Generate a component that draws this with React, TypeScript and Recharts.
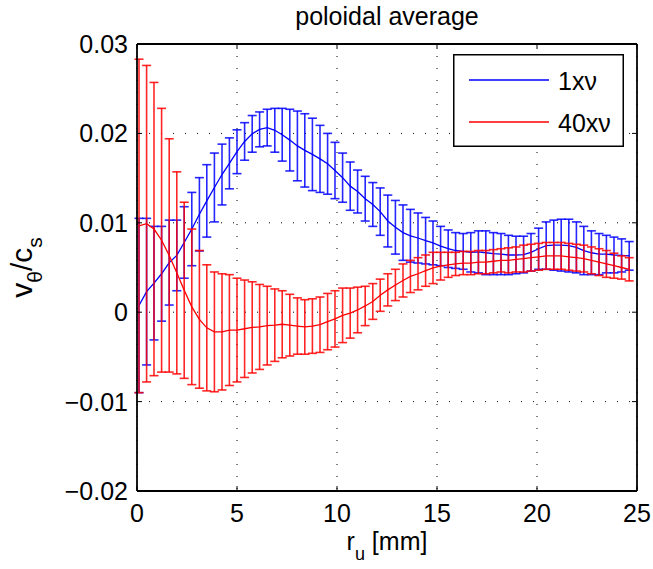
import React from 'react';
import { ComposedChart, Line, ErrorBar, XAxis, YAxis, CartesianGrid, Legend, Label } from 'recharts';

const FONT = '"Liberation Sans", Arial, Helvetica, sans-serif';

const title = 'poloidal average';
const seriesNames = ['1x\u03bd', '40x\u03bd'];
const xTicks = [0, 5, 10, 15, 20, 25];
const yTicks = [-0.02, -0.01, 0, 0.01, 0.02, 0.03];

const rValues = [
  0.10, 0.48, 0.85, 1.23, 1.61, 1.99, 2.36, 2.74, 3.12, 3.49,
  3.87, 4.25, 4.62, 5.00, 5.38, 5.76, 6.13, 6.51, 6.89, 7.26,
  7.64, 8.02, 8.39, 8.77, 9.15, 9.53, 9.90, 10.28, 10.66, 11.03,
  11.41, 11.79, 12.16, 12.54, 12.92, 13.30, 13.67, 14.05, 14.43, 14.80,
  15.18, 15.56, 15.93, 16.31, 16.69, 17.07, 17.44, 17.82, 18.20, 18.57,
  18.95, 19.33, 19.70, 20.08, 20.46, 20.84, 21.21, 21.59, 21.97, 22.34,
  22.72, 23.10, 23.47, 23.85, 24.23, 24.61,
];

const blueMean = [
  0.00075, 0.0023, 0.00325, 0.0043, 0.00555, 0.00635, 0.0078, 0.0093, 0.01095, 0.01245,
  0.01395, 0.0154, 0.01665, 0.01795, 0.0191, 0.01995, 0.02045, 0.02065, 0.02035, 0.01985,
  0.01925, 0.0186, 0.0181, 0.01765, 0.01715, 0.0166, 0.01585, 0.01505, 0.0141, 0.0135,
  0.0127, 0.01205, 0.01125, 0.0102, 0.0095, 0.0089, 0.00855, 0.0083, 0.008, 0.00775,
  0.0074, 0.0071, 0.0069, 0.0068, 0.0067, 0.00675, 0.00665, 0.00655, 0.0065, 0.0064,
  0.0064, 0.00645, 0.0067, 0.0071, 0.00745, 0.0075, 0.0075, 0.00745, 0.00725, 0.0069,
  0.00665, 0.0065, 0.0065, 0.0064, 0.00635, 0.0063,
];
const blueErr = [
  0.00975, 0.0082, 0.00635, 0.0053, 0.00475, 0.00395, 0.004, 0.0041, 0.0041, 0.00405,
  0.00385, 0.0034, 0.00285, 0.00245, 0.0021, 0.00205, 0.00195, 0.00205, 0.00245, 0.00295,
  0.00345, 0.0039, 0.0041, 0.00405, 0.00375, 0.0034, 0.00315, 0.00275, 0.0027, 0.0024,
  0.0025, 0.00245, 0.00265, 0.0029, 0.003, 0.0031, 0.00295, 0.0028, 0.0026, 0.00245,
  0.0022, 0.0021, 0.002, 0.002, 0.0022, 0.00235, 0.00245, 0.00235, 0.0023, 0.0022,
  0.0021, 0.00205, 0.0021, 0.0023, 0.00265, 0.0028, 0.0029, 0.00295, 0.00285, 0.0027,
  0.00245, 0.0023, 0.0021, 0.002, 0.00185, 0.0016,
];

const redMean = [
  0.00965, 0.0099, 0.0093, 0.00805, 0.00635, 0.0044, 0.00245, 0.0006, -0.0008, -0.00175,
  -0.0022, -0.0022, -0.002, -0.002, -0.00185, -0.0017, -0.00165, -0.0015, -0.00145, -0.00135,
  -0.00145, -0.00155, -0.00165, -0.00155, -0.0014, -0.00105, -0.00075, -0.00035, -0.0001, 0.00025,
  0.0007, 0.0012, 0.0019, 0.0025, 0.00305, 0.00355, 0.004, 0.0043, 0.00465, 0.00495,
  0.00515, 0.0053, 0.0054, 0.0055, 0.0055, 0.0056, 0.0056, 0.0057, 0.0058, 0.0058,
  0.0059, 0.006, 0.0061, 0.0062, 0.0063, 0.0063, 0.0063, 0.0062, 0.0061, 0.006,
  0.0058, 0.0056, 0.0054, 0.0052, 0.005, 0.0048,
];
const redErr = [
  0.01865, 0.0177, 0.0164, 0.01475, 0.01305, 0.0113, 0.00985, 0.0087, 0.0077, 0.00705,
  0.0067, 0.0065, 0.0062, 0.0058, 0.00545, 0.0051, 0.00475, 0.0044, 0.00405, 0.00375,
  0.00345, 0.00315, 0.00305, 0.00305, 0.0031, 0.00315, 0.00315, 0.00305, 0.0028, 0.00255,
  0.0022, 0.002, 0.0018, 0.0018, 0.00175, 0.00185, 0.0018, 0.0018, 0.00175, 0.00175,
  0.00155, 0.0014, 0.0013, 0.0013, 0.0013, 0.0013, 0.0013, 0.0013, 0.0013, 0.0014,
  0.0014, 0.0015, 0.0015, 0.0015, 0.0015, 0.0015, 0.0015, 0.0015, 0.0015, 0.0015,
  0.0015, 0.0015, 0.0015, 0.0014, 0.0013, 0.0013,
];

const BLUE = '#0000ff';
const RED = '#ff0000';

const data = rValues.map((r, i) => ({
  r,
  blue: blueMean[i],
  blueErr: blueErr[i],
  red: redMean[i],
  redErr: redErr[i],
}));

const fmtY = (v: number) => (v === 0 ? '0' : (v < 0 ? '\u2212' : '') + Math.abs(v).toFixed(2));

const TICK_LEN = 5;
const FS = 25;

const BottomTick = (props: any) => {
  const { x, y, payload } = props;
  return (
    <g>
      <line x1={x} y1={y} x2={x} y2={y - TICK_LEN} stroke="#000" strokeWidth={1} />
      <text x={x} y={y + 31} textAnchor="middle" fontSize={FS} fontFamily={FONT} fill="#000">
        {payload.value}
      </text>
    </g>
  );
};
const TopTick = (props: any) => {
  const { x, y } = props;
  return <line x1={x} y1={y} x2={x} y2={y + TICK_LEN} stroke="#000" strokeWidth={1} />;
};
const LeftTick = (props: any) => {
  const { x, y, payload } = props;
  return (
    <g>
      <line x1={x} y1={y} x2={x + TICK_LEN} y2={y} stroke="#000" strokeWidth={1} />
      <text x={x - 9} y={y} dy="0.36em" textAnchor="end" fontSize={FS} fontFamily={FONT} fill="#000">
        {fmtY(payload.value)}
      </text>
    </g>
  );
};
const RightTick = (props: any) => {
  const { x, y } = props;
  return <line x1={x} y1={y} x2={x - TICK_LEN} y2={y} stroke="#000" strokeWidth={1} />;
};

const TitleContent = (props: any) => {
  const vb = props.viewBox || {};
  return (
    <text x={vb.x + vb.width / 2} y={vb.y + vb.height - 19} textAnchor="middle" fontSize={FS} fontFamily={FONT} fill="#000">
      {title}
    </text>
  );
};
const XLabelContent = (props: any) => {
  const vb = props.viewBox || {};
  return (
    <text x={vb.x + vb.width / 2} y={vb.y + 59} textAnchor="middle" fontSize={FS} fontFamily={FONT} fill="#000">
      <tspan>r</tspan>
      <tspan dy={10} fontSize={18}>u</tspan>
      <tspan dy={-10}> [mm]</tspan>
    </text>
  );
};
const YLabelContent = (props: any) => {
  const vb = props.viewBox || {};
  const cx = vb.x + vb.width - 105;
  const cy = vb.y + vb.height / 2;
  return (
    <text
      x={cx}
      y={cy}
      transform={`rotate(-90 ${cx} ${cy})`}
      textAnchor="middle"
      fontSize={30}
      fontFamily={FONT}
      fill="#000"
    >
      <tspan>v</tspan>
      <tspan dy={10} fontSize={21}>{'\u03b8'}</tspan>
      <tspan dy={-10}>/c</tspan>
      <tspan dy={10} fontSize={21}>s</tspan>
    </text>
  );
};

const LegendContent = () => (
  <svg width={171} height={93} style={{ display: 'block' }}>
    <rect x={0.75} y={0.75} width={169.5} height={91.5} fill="#fff" stroke="#000" strokeWidth={1.5} />
    <line x1={16} y1={26} x2={96} y2={26} stroke={BLUE} strokeWidth={1.3} />
    <text x={105} y={36} fontSize={FS} fontFamily={FONT} fill="#000">{seriesNames[0]}</text>
    <line x1={16} y1={68} x2={96} y2={68} stroke={RED} strokeWidth={1.3} />
    <text x={105} y={78} fontSize={FS} fontFamily={FONT} fill="#000">{seriesNames[1]}</text>
  </svg>
);

const axisLineStyle = { stroke: '#000', strokeWidth: 1.8 };

export default function App() {
  return (
    <div style={{ position: 'absolute', left: 0, top: 0, background: '#fff' }}>
      <ComposedChart
        width={653}
        height={569}
        data={data}
        margin={{ top: 43, right: 15, bottom: 77, left: 136 }}
      >
        <CartesianGrid stroke="#000" strokeWidth={1} strokeDasharray="1 11" />
        <XAxis
          dataKey="r"
          type="number"
          domain={[0, 25]}
          ticks={xTicks}
          allowDataOverflow
          height={1}
          tickSize={0}
          tickMargin={0}
          tickLine={false}
          tick={<BottomTick />}
          axisLine={axisLineStyle}
          interval={0}
        >
          <Label content={<XLabelContent />} />
        </XAxis>
        <XAxis
          xAxisId="top"
          orientation="top"
          dataKey="r"
          type="number"
          domain={[0, 25]}
          ticks={xTicks}
          allowDataOverflow
          height={1}
          tickSize={0}
          tickMargin={0}
          tickLine={false}
          tick={<TopTick />}
          axisLine={axisLineStyle}
          interval={0}
        >
          <Label content={<TitleContent />} />
        </XAxis>
        <YAxis
          type="number"
          domain={[-0.02, 0.03]}
          ticks={yTicks}
          allowDataOverflow
          width={1}
          tickSize={0}
          tickMargin={0}
          tickLine={false}
          tick={<LeftTick />}
          axisLine={axisLineStyle}
          interval={0}
        >
          <Label content={<YLabelContent />} />
        </YAxis>
        <YAxis
          yAxisId="right"
          orientation="right"
          type="number"
          domain={[-0.02, 0.03]}
          ticks={yTicks}
          allowDataOverflow
          width={1}
          tickSize={0}
          tickMargin={0}
          tickLine={false}
          tick={<RightTick />}
          axisLine={axisLineStyle}
          interval={0}
        />
        <Line
          dataKey="blue"
          name={seriesNames[0]}
          stroke={BLUE}
          strokeWidth={1.3}
          dot={false}
          activeDot={false}
          isAnimationActive={false}
        >
          <ErrorBar dataKey="blueErr" direction="y" width={4.5} stroke={BLUE} strokeWidth={1.6} strokeOpacity={0.85} isAnimationActive={false} />
        </Line>
        <Line
          dataKey="red"
          name={seriesNames[1]}
          stroke={RED}
          strokeWidth={1.3}
          dot={false}
          activeDot={false}
          isAnimationActive={false}
        >
          <ErrorBar dataKey="redErr" direction="y" width={4.5} stroke={RED} strokeWidth={1.6} strokeOpacity={0.85} isAnimationActive={false} />
        </Line>
        <Legend
          layout="vertical"
          align="center"
          verticalAlign="middle"
          content={<LegendContent />}
          wrapperStyle={{ position: 'absolute', left: 453, top: 54, width: 171, height: 93 }}
        />
      </ComposedChart>
    </div>
  );
}
